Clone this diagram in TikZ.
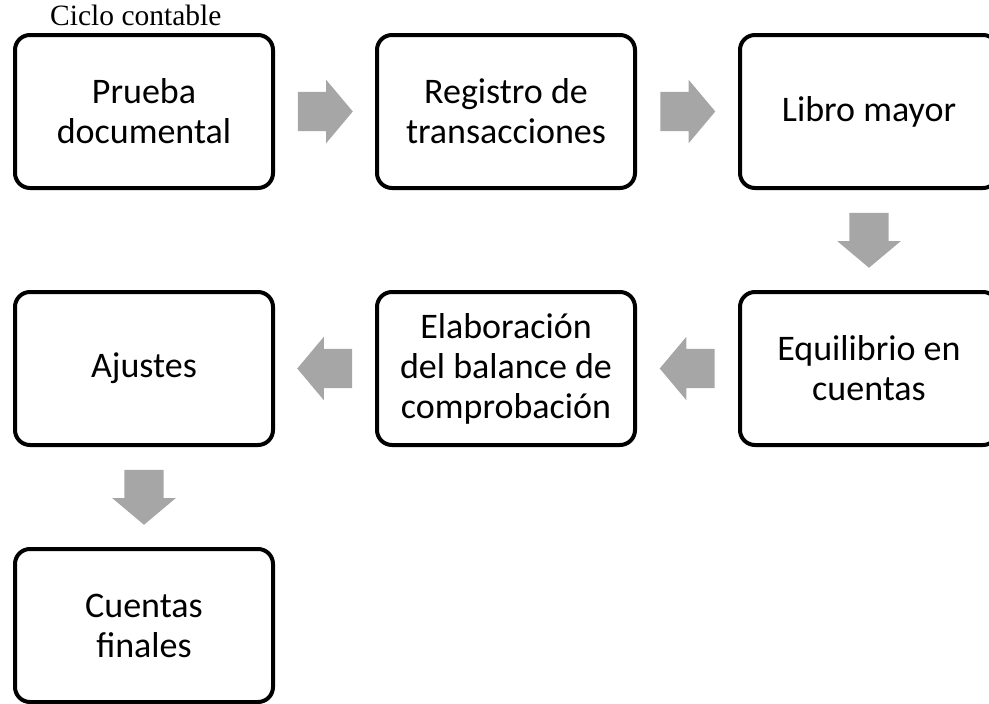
\documentclass[tikz,border=0pt]{standalone}
\usepackage{fontspec}
\setmainfont{Liberation Serif}
\newfontfamily\pasofont{Carlito}
\usetikzlibrary{shapes.arrows,calc}
\definecolor{flechagris}{RGB}{166,166,166}

\begin{document}
\begin{tikzpicture}[x=1pt, y=-1pt,
    paso/.style={draw, line width=4pt, rounded corners=15pt, minimum width=258pt,
      minimum height=153pt, inner sep=0pt, align=center,
      font=\pasofont\fontsize{36}{40}\selectfont},
    flecha/.style={single arrow, fill=flechagris, draw=none, minimum width=63pt,
      minimum height=55pt, inner xsep=0pt, inner ysep=19.5pt,
      single arrow head extend=12pt, single arrow tip angle=100},
    hacia/.style={rotate=#1, xshift=-8pt}]
    \useasboundingbox (0,0) rectangle (989,704);
    \node[anchor=base west, inner sep=0pt, font=\fontsize{29.5}{32}\selectfont] (titulo) at (50,25.5) {Ciclo contable};

    \node[paso] (prueba) at (144,111.5) {Prueba\\documental};
    \node[paso] (registro) at (506,111.5) {Registro de\\transacciones};
    \node[paso] (libro) at (869,111.5) {Libro mayor};
    \node[paso] (equilibrio) at (869,368.5) {Equilibrio en\\cuentas};
    \node[paso] (elaboracion) at (506,368.5) {Elaboración\\del balance de\\comprobación};
    \node[paso] (ajustes) at (144,368.5) {Ajustes};
    \node[paso] (finales) at (144,625.5) {Cuentas\\finales};

    \node[flecha, hacia=0] (f1) at ($(prueba.east)!0.5!(registro.west)$) {};
    \node[flecha, hacia=0] (f2) at ($(registro.east)!0.5!(libro.west)$) {};
    \node[flecha, hacia=-90] (f3) at ($(libro.south)!0.5!(equilibrio.north)$) {};
    \node[flecha, hacia=180] (f4) at ($(equilibrio.west)!0.5!(elaboracion.east)$) {};
    \node[flecha, hacia=180] (f5) at ($(elaboracion.west)!0.5!(ajustes.east)$) {};
    \node[flecha, hacia=-90] (f6) at ($(ajustes.south)!0.5!(finales.north)$) {};
  \end{tikzpicture}
\end{document}
